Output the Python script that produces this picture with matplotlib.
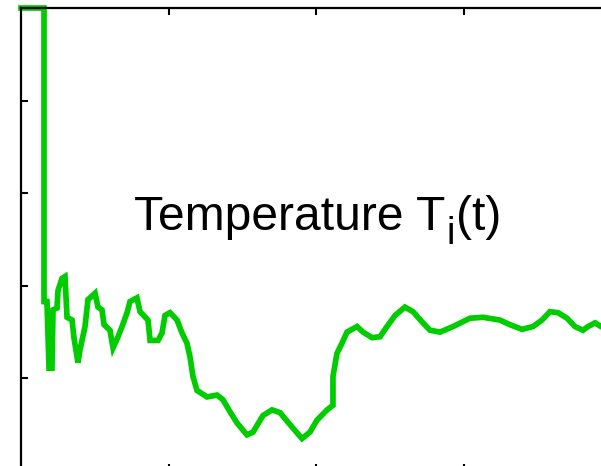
import numpy as np
import matplotlib
matplotlib.use("Agg")
import matplotlib.pyplot as plt
from matplotlib.transforms import IdentityTransform

plt.rcParams['font.family'] = ['Liberation Sans', 'DejaVu Sans']

# time axis and temperature trace
t = [0.0, 0.156, 0.156, 0.176, 0.190, 0.210, 0.217, 0.244, 0.251, 0.278,
     0.298, 0.312, 0.346, 0.359, 0.386, 0.400, 0.434, 0.454, 0.502, 0.522,
     0.549, 0.563, 0.603, 0.624, 0.658, 0.685, 0.719, 0.739, 0.786, 0.807,
     0.861, 0.875, 0.929, 0.956, 0.976, 1.010, 1.058, 1.092, 1.125, 1.146,
     1.166, 1.193, 1.261, 1.329, 1.369, 1.417, 1.464, 1.532, 1.573, 1.641,
     1.702, 1.756, 1.824, 1.905, 1.959, 2.007, 2.075, 2.115, 2.115, 2.142,
     2.176, 2.210, 2.278, 2.319, 2.380, 2.434, 2.481, 2.536, 2.603, 2.658,
     2.719, 2.773, 2.841, 2.929, 3.044, 3.132, 3.247, 3.315, 3.397, 3.471,
     3.532, 3.586, 3.641, 3.702, 3.756, 3.810, 3.844, 3.892, 3.932, 4.0]
temp = [5.0, 5.0, 1.83, 1.83, 1.11, 1.11, 1.74, 1.76, 1.95, 2.08,
        2.10, 1.66, 1.63, 1.44, 1.17, 1.31, 1.56, 1.85, 1.92, 1.77,
        1.74, 1.58, 1.52, 1.33, 1.45, 1.56, 1.71, 1.83, 1.87, 1.72,
        1.63, 1.41, 1.41, 1.49, 1.68, 1.71, 1.63, 1.49, 1.38, 1.23,
        1.02, 0.87, 0.80, 0.82, 0.77, 0.64, 0.52, 0.39, 0.42, 0.60,
        0.66, 0.63, 0.50, 0.35, 0.42, 0.55, 0.66, 0.71, 1.02, 1.27,
        1.38, 1.50, 1.56, 1.50, 1.44, 1.45, 1.56, 1.68, 1.77, 1.72,
        1.61, 1.52, 1.50, 1.56, 1.65, 1.66, 1.63, 1.58, 1.53, 1.56,
        1.63, 1.72, 1.71, 1.65, 1.56, 1.52, 1.56, 1.60, 1.56, 1.57]

# label pieces: main text, subscript, tail
label_main = "Temperature T"
label_sub = "i"
label_tail = "(t)"

fig = plt.figure(figsize=(6.01, 4.66), dpi=100)
# axes run a little past the right and bottom edges, as in the cropped original
ax = fig.add_axes([21 / 601, -5 / 466, 590 / 601, 463 / 466])

ax.plot(t, temp, color='#00cc00', linewidth=4.1, clip_on=False,
        solid_joinstyle='miter')

ax.set_xlim(0, 4)
ax.set_ylim(0, 5)
ax.set_xticks([1, 2, 3])
ax.set_yticks([1, 2, 3, 4])
ax.tick_params(direction='in', length=5, width=1.5, top=True, right=True,
               labelbottom=False, labelleft=False)
for spine in ax.spines.values():
    spine.set_linewidth(1.6)

# place the label in pixel coordinates, chaining the pieces
px = IdentityTransform()
renderer = fig.canvas.get_renderer()
x0, base = 134, 466 - 230
t1 = fig.text(x0, base, label_main, fontsize=34.6, va='baseline', ha='left',
              transform=px)
x1 = t1.get_window_extent(renderer).x1
t2 = fig.text(x1 + 1, base - 14, label_sub, fontsize=27.5, va='baseline',
              ha='left', transform=px)
x2 = t2.get_window_extent(renderer).x1
fig.text(x2 + 1, base, label_tail, fontsize=34.6, va='baseline', ha='left',
         transform=px)

fig.savefig("out.png", dpi=100)
